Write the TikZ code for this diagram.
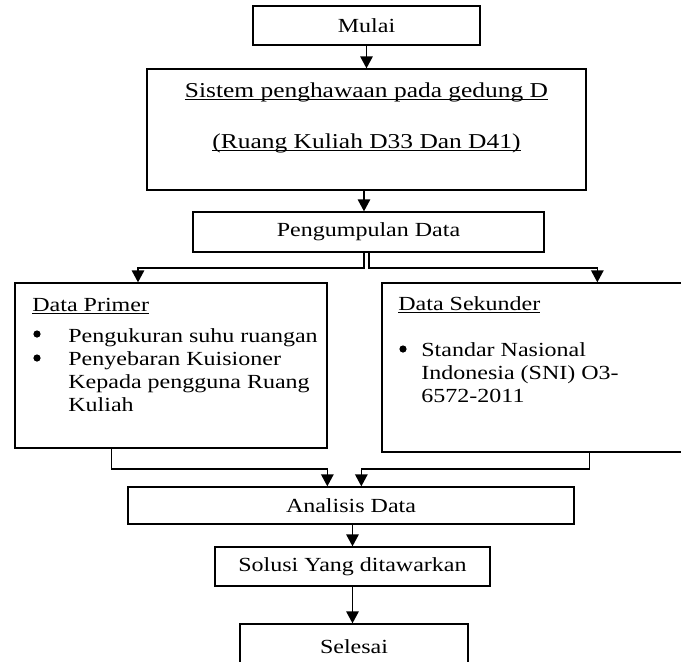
\documentclass[tikz,border=0pt]{standalone}
\usepackage{fontspec}
\setmainfont{Liberation Serif}[FakeStretch=1.2]
\usetikzlibrary{arrows.meta,calc}
\newcommand{\garisbawah}[1]{\setbox0\hbox{#1}\rlap{\rule[-1.6pt]{\wd0}{0.5pt}}\box0}

\begin{document}
\begin{tikzpicture}[x=0.5pt, y=-0.5pt,
  font=\fontsize{10pt}{11.5pt}\selectfont,
  box/.style={draw, line width=0.65pt, inner sep=0pt},
  titik/.style={circle, fill, inner sep=0pt, minimum size=3.6pt},
  arr/.style={line width=0.85pt, -{Triangle[length=6pt, width=6.2pt]}}]
  \useasboundingbox (0,0) rectangle (681,661);
  \clip (0,0) rectangle (681,661);
  % alur utama
  \node[box, minimum width=113.5pt, minimum height=19.5pt] (mulai) at (366.5,25.5) {Mulai};
  \node[box, minimum width=219.5pt, minimum height=60.5pt] (sistem) at (366.5,129.5) {};
  \node[anchor=base, font=\fontsize{10.6pt}{12pt}\selectfont] (sistem1) at (366.5,97) {\garisbawah{Sistem penghawaan pada gedung D}};
  \node[anchor=base, font=\fontsize{10.6pt}{12pt}\selectfont] (sistem2) at (366.5,148) {\garisbawah{(Ruang Kuliah D33 Dan D41)}};
  \node[box, minimum width=175.5pt, minimum height=20pt] (kumpul) at (368.5,232) {Pengumpulan Data};
  % data primer
  \node[box, minimum width=156pt, minimum height=82.5pt] (primer) at (171,365.5) {};
  \node[anchor=base west, inner sep=0pt] (primerjudul) at (32,311) {\garisbawah{Data Primer}};
  \node[titik] (pb1) at (37,334) {};
  \node[anchor=base west, inner sep=0pt] (pt1) at (68,342) {Pengukuran suhu ruangan};
  \node[titik] (pb2) at (37,358) {};
  \node[anchor=base west, inner sep=0pt] (pt2) at (68,365) {Penyebaran Kuisioner};
  \node[anchor=base west, inner sep=0pt] (pt3) at (68,388) {Kepada pengguna Ruang};
  \node[anchor=base west, inner sep=0pt] (pt4) at (68,411) {Kuliah};
  % data sekunder
  \node[box, minimum width=159pt, minimum height=84.5pt] (sekunder) at (541,367.5) {};
  \node[anchor=base west, inner sep=0pt] (sekunderjudul) at (398,310) {\garisbawah{Data Sekunder}};
  \node[titik] (sb1) at (403,349) {};
  \node[anchor=base west, inner sep=0pt] (st1) at (421,356) {Standar Nasional};
  \node[anchor=base west, inner sep=0pt] (st2) at (421,379) {Indonesia (SNI) O3-};
  \node[anchor=base west, inner sep=0pt] (st3) at (421,402) {6572-2011};
  % analisis sampai selesai
  \node[box, minimum width=223pt, minimum height=18.5pt] (analisis) at (351,505.5) {Analisis Data};
  \node[box, minimum width=137.5pt, minimum height=19.5pt] (solusi) at (352.5,566.5) {Solusi Yang ditawarkan};
  \node[box, minimum width=114pt, minimum height=23pt] (selesai) at (354,647) {Selesai};
  % panah
  \draw[arr] (mulai) -- (sistem);
  \draw[arr] ($(sistem.south)+(-2.5,0)$) -- ($(kumpul.north)+(-4.5,0)$);
  \draw[arr] ($(kumpul.south)+(-4.5,0)$) -- ++(0,15) -| ($(primer.north)+(-33,0)$);
  \draw[arr] ($(kumpul.south)+(0.5,0)$) -- ++(0,15) -| ($(sekunder.north west)+(216,0)$);
  \draw[arr] ($(primer.south west)+(97,0)$) -- ++(0,20) -| ($(analisis.north west)+(200,0)$);
  \draw[arr] ($(sekunder.south west)+(208,0)$) -- ++(0,16) -| ($(analisis.north west)+(234,0)$);
  \draw[arr] (analisis.south -| solusi.north) -- (solusi.north);
  \draw[arr] (solusi.south) -- (solusi.south |- selesai.north);
\end{tikzpicture}
\end{document}
